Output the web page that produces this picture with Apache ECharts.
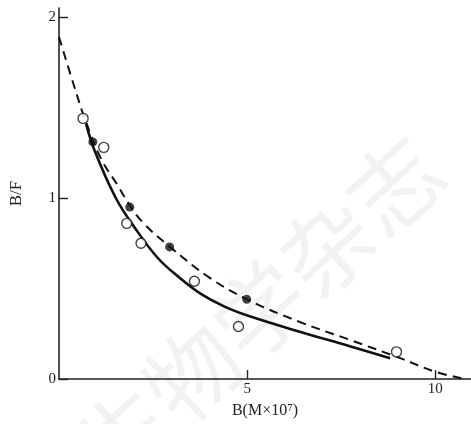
<!DOCTYPE html>
<html>
<head>
<meta charset="utf-8">
<script src="https://cdn.jsdelivr.net/npm/echarts@6/dist/echarts.min.js"></script>
<style>
  html, body { margin: 0; padding: 0; background: #fff; }
  #chart { width: 471px; height: 424px; }
</style>
</head>
<body>
<div id="chart"></div>
<script>
// 空心点 / 实心点 (B, B/F)
const openPoints = [[0.64, 1.44], [1.19, 1.28], [1.8, 0.86], [2.18, 0.75], [3.6, 0.54], [4.77, 0.29], [8.97, 0.15]]
const filledPoints = [[0.9, 1.31], [1.88, 0.95], [2.94, 0.73], [4.99, 0.44]]

// 实线拟合曲线
const solidCurve = [[0.72, 1.41], [0.95, 1.26], [1.51, 1.0], [2.0, 0.84], [2.62, 0.67], [3.2, 0.56],
    [3.77, 0.47], [4.4, 0.4], [5.09, 0.345], [6.42, 0.26], [7.75, 0.18], [8.8, 0.115]]
// 虚线拟合曲线
const dashedCurve = [[0, 1.89], [0.4, 1.62], [0.7, 1.43], [1.11, 1.22], [1.56, 1.07], [1.88, 0.96],
    [2.25, 0.86], [2.95, 0.73], [4.0, 0.56], [5.0, 0.44], [6.4, 0.315], [7.75, 0.215],
    [9.07, 0.115], [10.0, 0.04], [10.8, 0]]

const xTicks = [5, 10]
const yTicks = [0, 1, 2]
const xName = 'B(M×10⁷)'
const yName = 'B/F'
const watermark = '生物学杂志'

const serif = '"Liberation Serif", "DejaVu Serif", serif'
const chart = echarts.init(document.getElementById('chart'))

const option = {
    backgroundColor: '#fff',
    animation: false,
    graphic: [{
        type: 'text',
        left: 60,
        top: 120,
        rotation: Math.PI / 4.2,
        originX: 0,
        originY: 0,
        z: -1,
        style: {
            text: watermark,
            font: '92px "Noto Sans CJK SC"',
            fill: 'rgba(0,0,0,0.05)',
            x: 20,
            y: 330
        }
    }],
    grid: { left: 58, right: 0, top: 8, bottom: 43 },
    xAxis: {
        type: 'value',
        min: 0,
        max: 10.95,
        interval: 5,
        name: xName,
        nameLocation: 'middle',
        nameGap: 24,
        nameTextStyle: { color: '#222', fontFamily: serif, fontSize: 16 },
        axisLine: { lineStyle: { color: '#222', width: 1.6 } },
        axisTick: {
            inside: true, length: 9, lineStyle: { color: '#222', width: 1.4 },
            customValues: xTicks
        },
        axisLabel: {
            color: '#222', fontFamily: serif, fontSize: 15, margin: 3,
            customValues: xTicks,
            formatter: v => (v === 0 ? '' : String(v))
        },
        splitLine: { show: false }
    },
    yAxis: {
        type: 'value',
        min: 0,
        max: 2.05,
        interval: 1,
        name: yName,
        nameLocation: 'middle',
        nameGap: 34,
        nameRotate: 90,
        nameTextStyle: { color: '#222', fontFamily: serif, fontSize: 17 },
        axisLine: { show: true, lineStyle: { color: '#222', width: 1.6 } },
        axisTick: {
            show: true, inside: true, length: 9, lineStyle: { color: '#222', width: 1.4 },
            customValues: yTicks
        },
        axisLabel: {
            color: '#222', fontFamily: serif, fontSize: 15, margin: 3,
            customValues: yTicks
        },
        splitLine: { show: false }
    },
    series: [
        {
            type: 'line',
            data: dashedCurve,
            smooth: 0.4,
            symbol: 'none',
            lineStyle: { color: '#111', width: 2, type: [9, 6] },
            z: 2
        },
        {
            type: 'line',
            data: solidCurve,
            smooth: 0.4,
            symbol: 'none',
            lineStyle: { color: '#111', width: 2.6 },
            z: 2
        },
        {
            type: 'scatter',
            data: openPoints,
            symbol: 'circle',
            symbolSize: 10,
            itemStyle: { color: '#fff', borderColor: '#111', borderWidth: 1.4 },
            z: 3
        },
        {
            type: 'scatter',
            data: filledPoints,
            symbol: 'circle',
            symbolSize: 9,
            itemStyle: { color: '#111' },
            z: 3
        }
    ]
}

chart.setOption(option)
</script>
</body>
</html>
